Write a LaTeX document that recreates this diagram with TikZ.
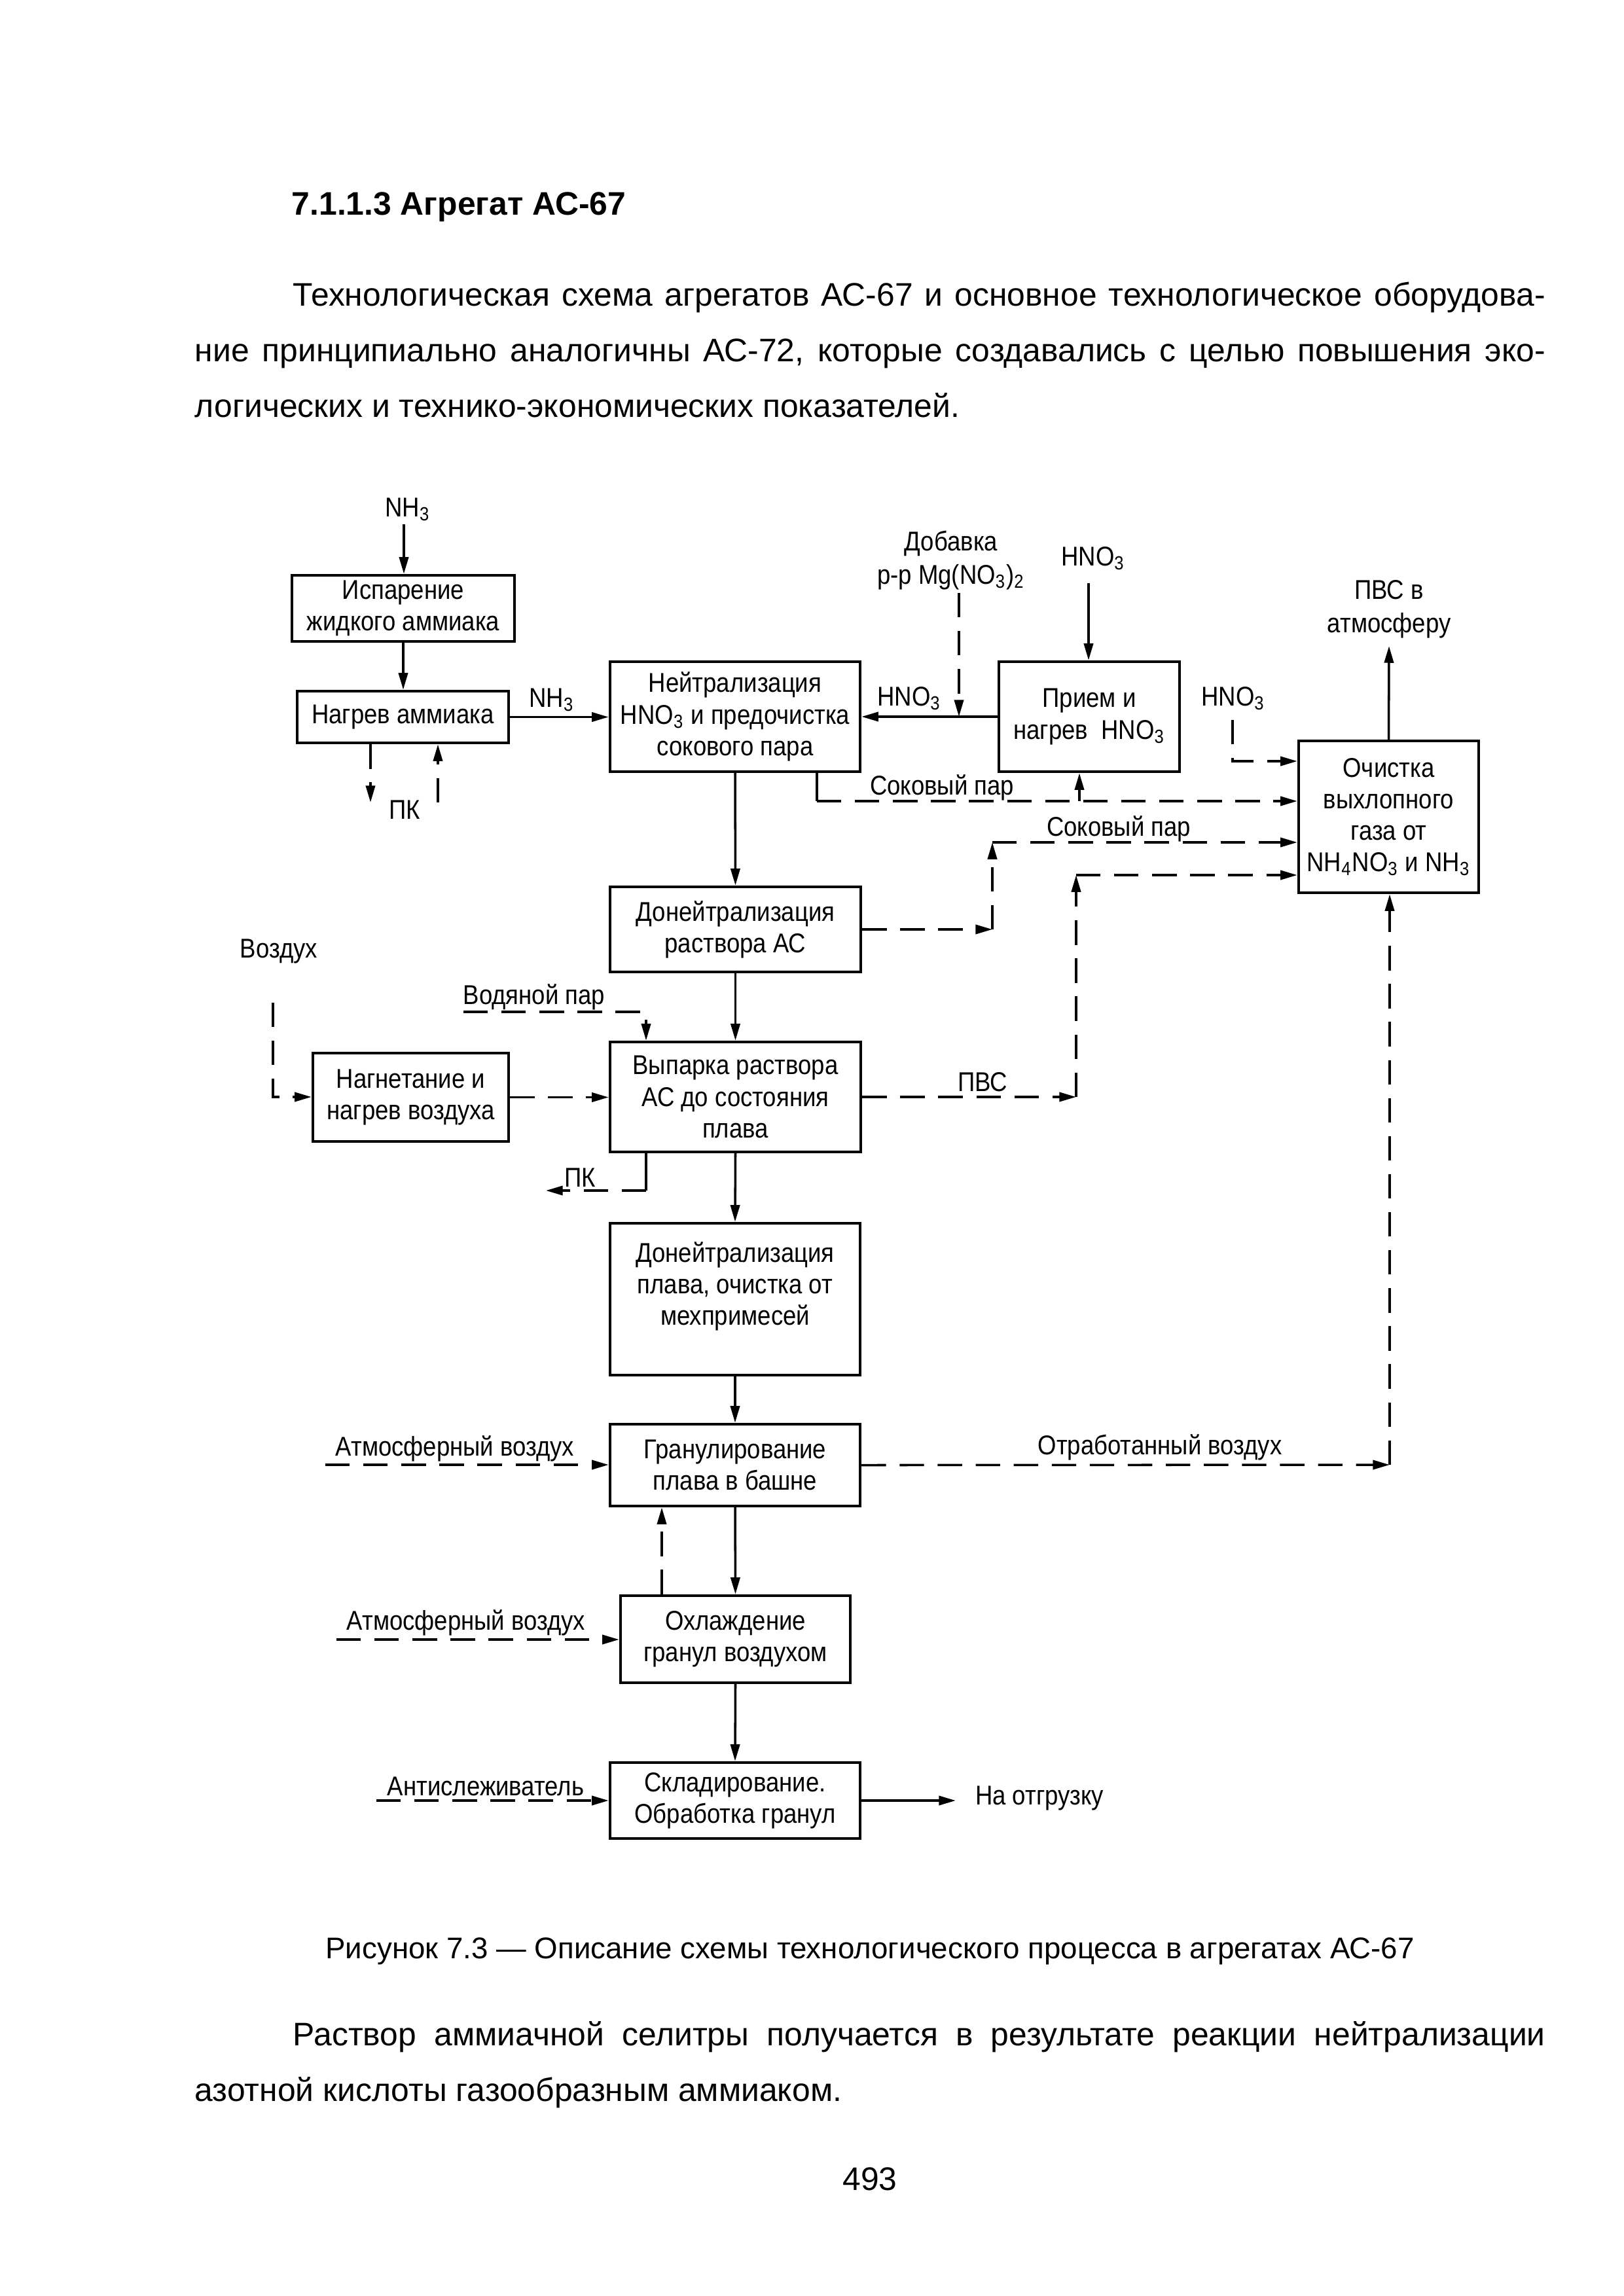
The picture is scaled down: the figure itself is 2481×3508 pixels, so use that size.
\documentclass[tikz,border=0pt]{standalone}
\usepackage{fontspec}
\setmainfont{Liberation Sans}
\newfontfamily\gost[FakeStretch=0.88]{Liberation Sans}
\usetikzlibrary{arrows.meta}
\newcommand\sbs[1]{\textsubscript{#1}}
\newcommand\pxu{0.2409pt}
\tikzset{
  box/.style={draw, line width=1.05pt, align=center, inner sep=0pt,
    font=\gost\fontsize{10}{11.6}\selectfont},
  lbl/.style={align=center, inner sep=0pt, font=\gost\fontsize{10}{12.4}\selectfont},
  body/.style={inner sep=0pt, anchor=base west, font=\fontsize{12}{14}\selectfont},
  ln/.style={line width=0.85pt},
  dln/.style={ln, dash pattern=on 9pt off 5pt},
  ar/.style={ln, -{Triangle[length=6.2pt,width=3.4pt]}},
  dar/.style={ar, dash pattern=on 9pt off 5pt},
}
\begin{document}
\begin{tikzpicture}[x=0.2409pt, y=-0.2409pt]
\fill[white] (0,0) rectangle (2481,3508);
\useasboundingbox (0,0) rectangle (2481,3508);

% ---------- page text ----------
\node[body, font=\bfseries\fontsize{12}{14}\selectfont] (head) at (445,328) {7.1.1.3 Агрегат АС-67};
\node[body] (p1) at (447,467) {\makebox[460.84pt][s]{Технологическая схема агрегатов АС-67 и основное технологическое оборудова-}};
\node[body] (p2) at (297,552) {\makebox[496.98pt][s]{ние принципиально аналогичны АС-72, которые создавались с целью повышения эко-}};
\node[body] (p3) at (297,637) {логических и технико-экономических показателей.};
\node[body, anchor=base, font=\fontsize{11}{13}\selectfont] (cap) at (1329,2992) {Рисунок 7.3 — Описание схемы технологического процесса в агрегатах АС-67};
\node[body] (p4) at (447,3125) {\makebox[460.84pt][s]{Раствор аммиачной селитры получается в результате реакции нейтрализации}};
\node[body] (p5) at (297,3210) {азотной кислоты газообразным аммиаком.};
\node[body, anchor=base] (pg) at (1329,3346) {493};

% ---------- boxes ----------
\node[box, minimum width=340*\pxu, minimum height=101*\pxu] (isp) at (616,929.5) {Испарение\\жидкого аммиака};
\node[box, minimum width=323*\pxu, minimum height=79*\pxu] (nagr) at (615.5,1095.5) {Нагрев аммиака};
\node[box, minimum width=382*\pxu, minimum height=168*\pxu] (neut) at (1123,1095) {Нейтрализация\\HNO\sbs{3} и предочистка\\сокового пара};
\node[box, minimum width=276*\pxu, minimum height=168*\pxu] (priem) at (1664,1095) {Прием и\\нагрев~~HNO\sbs{3}};
\node[box, minimum width=275*\pxu, minimum height=232*\pxu] (ochist) at (2121.5,1248) {Очистка\\выхлопного\\газа от\\NH\sbs{4}NO\sbs{3} и NH\sbs{3}};
\node[box, minimum width=383*\pxu, minimum height=130*\pxu] (doneut) at (1123.5,1420) {Донейтрализация\\раствора АС};
\node[box, minimum width=299*\pxu, minimum height=135*\pxu] (nagnet) at (627.5,1676.5) {Нагнетание и\\нагрев воздуха};
\node[box, minimum width=383*\pxu, minimum height=168*\pxu] (vyp) at (1123.5,1676) {Выпарка раствора\\АС до состояния\\плава};
\node[box, minimum width=382*\pxu, minimum height=232*\pxu] (donplav) at (1123,1985) {Донейтрализация\\плава, очистка от\\мехпримесей\\\mbox{}};
\node[box, minimum width=382*\pxu, minimum height=125*\pxu] (granul) at (1123,2238.5) {Гранулирование\\плава в башне};
\node[box, minimum width=351*\pxu, minimum height=133*\pxu] (ohl) at (1123.5,2504.5) {Охлаждение\\гранул воздухом};
\node[box, minimum width=382*\pxu, minimum height=116*\pxu] (sklad) at (1123,2751) {Складирование.\\Обработка гранул};

% ---------- labels ----------
\node[lbl] (tNH3a) at (623,778) {NH\sbs{3}};
\node[lbl] (tNH3b) at (843,1069) {NH\sbs{3}};
\node[lbl] (tPK1) at (618,1237) {ПК};
\node[lbl] (tHNO3a) at (1389,1067) {HNO\sbs{3}};
\node[lbl] (tDob) at (1453,856) {Добавка\\р-р Mg(NO\sbs{3})\sbs{2}};
\node[lbl] (tHNO3b) at (1670,853) {HNO\sbs{3}};
\node[lbl] (tHNO3c) at (1884,1067) {HNO\sbs{3}};
\node[lbl] (tPVSa) at (2122,931) {ПВС в\\атмосферу};
\node[lbl] (tSok1) at (1439,1203) {Соковый пар};
\node[lbl] (tSok2) at (1709,1266) {Соковый пар};
\node[lbl] (tPVS) at (1501,1653) {ПВС};
\node[lbl] (tVod) at (816,1523) {Водяной пар};
\node[lbl] (tVoz) at (426,1454) {Воздух};
\node[lbl] (tPK2) at (886,1799) {ПК};
\node[lbl] (tAtm1) at (695,2213) {Атмосферный воздух};
\node[lbl] (tOtr) at (1772,2211) {Отработанный воздух};
\node[lbl] (tAtm2) at (712,2479) {Атмосферный воздух};
\node[lbl] (tAnti) at (742,2729) {Антислеживатель};
\node[lbl] (tOtg) at (1588,2747) {На отгрузку};

% ---------- coordinates ----------
\coordinate (inNH3) at (617,801);
\coordinate (pk1) at (566,1226);
\coordinate (pk2) at (669,1226);
\coordinate (dob) at (1465,906);
\coordinate (hin) at (1663,891);
\coordinate (h2) at (1883,1100);
\coordinate (h2b) at (1883,1163);
\coordinate (pvsout) at (2122,987);
\coordinate (s1) at (1248,1224);
\coordinate (s1b) at (1649,1224);
\coordinate (s2a) at (1516,1420);
\coordinate (s2b) at (1516,1287);
\coordinate (q1) at (1644,1676);
\coordinate (q2) at (1644,1337);
\coordinate (w1) at (708,1546);
\coordinate (w2) at (987,1546);
\coordinate (v1) at (417,1532);
\coordinate (v2) at (417,1676);
\coordinate (k1) at (987,1819);
\coordinate (k2) at (834,1819);
\coordinate (a1) at (497,2238);
\coordinate (o1) at (2123,2238);
\coordinate (u1) at (1011,2400);
\coordinate (a2) at (514,2505);
\coordinate (a3) at (575,2751);
\coordinate (g1) at (1460,2751);

% ---------- connectors ----------
\draw[ar] (inNH3) -- (inNH3 |- isp.north);
\draw[ar] (isp.south) -- (isp.south |- nagr.north);
\draw[ar] (nagr.east) -- (nagr.east -| neut.west);
\draw[dar] (pk1 |- nagr.south) -- (pk1);
\draw[dar] (pk2) -- (pk2 |- nagr.south);
\draw[ar] (priem.west) -- (neut.east);
\draw[dar] (dob) -- (dob |- priem.west);
\draw[ar] (hin) -- (hin |- priem.north);
\draw[dar] (h2) -- (h2b) -- (h2b -| ochist.west);
\draw[ar] (ochist.north) -- (pvsout);
\draw[ln] (s1 |- neut.south) -- (s1);
\draw[dar] (s1) -- (s1 -| ochist.west);
\draw[ar] (s1b) -- (s1b |- priem.south);
\draw[dar] (doneut.east) -- (s2a);
\draw[dar] (s2a) -- (s2b);
\draw[dar] (s2b) -- (s2b -| ochist.west);
\draw[dar] (vyp.east) -- (q1);
\draw[dar] (q1) -- (q2);
\draw[dar] (q2) -- (q2 -| ochist.west);
\draw[ar] (neut.south) -- (doneut.north);
\draw[ar] (doneut.south) -- (vyp.north);
\draw[dar] (w1) -- (w2) -- (w2 |- vyp.north);
\draw[dar] (v1) -- (v2) -- (v2 -| nagnet.west);
\draw[dar] (nagnet.east) -- (nagnet.east -| vyp.west);
\draw[ln] (k1 |- vyp.south) -- (k1);
\draw[dar] (k1) -- (k2);
\draw[ar] (vyp.south) -- (donplav.north);
\draw[ar] (donplav.south) -- (granul.north);
\draw[dar] (a1) -- (a1 -| granul.west);
\draw[dar] (granul.east) -- (o1);
\draw[dar] (o1) -- (o1 |- ochist.south);
\draw[ar] (granul.south) -- (ohl.north);
\draw[dar] (ohl.north -| u1) -- (granul.south -| u1);
\draw[dar] (a2) -- (a2 -| ohl.west);
\draw[ar] (ohl.south) -- (sklad.north);
\draw[dar] (a3) -- (a3 -| sklad.west);
\draw[ar] (sklad.east) -- (g1);
\end{tikzpicture}
\end{document}
